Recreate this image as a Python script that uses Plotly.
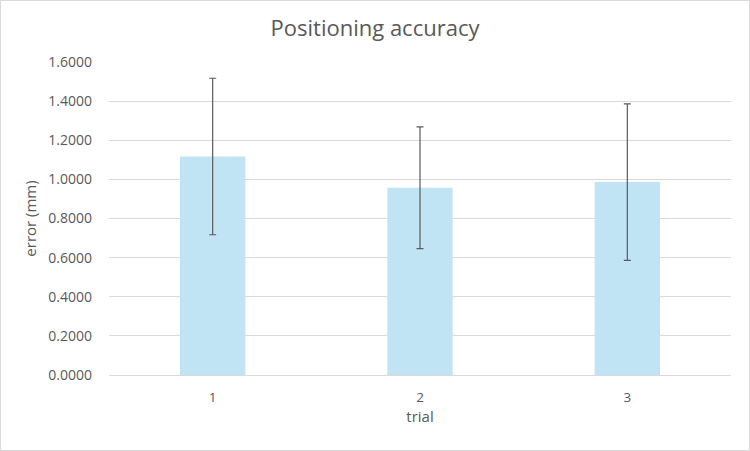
import plotly.graph_objects as go

trials = ["1", "2", "3"]
mean_error = [1.117, 0.957, 0.986]
std_error = [0.400, 0.311, 0.400]
y_ticks = [0.0, 0.2, 0.4, 0.6, 0.8, 1.0, 1.2, 1.4, 1.6]

W, H = 750, 451
L, R, T, B = 109, 19, 62, 76
pw, ph = W - L - R, H - T - B

font = "Open Sans"
grey = "#595959"

fig = go.Figure()
fig.add_trace(go.Bar(
    x=trials, y=mean_error,
    marker=dict(color="#C1E4F5", line=dict(width=0)),
    width=0.315,
    error_y=dict(type="data", array=std_error, visible=True,
                 color="#5a5a5a", thickness=1.2, width=3.5),
))

def px2x(px):
    return (px - L) / pw

def py2y(py):
    return (H - B - py) / ph

fig.add_shape(type="rect", xref="paper", yref="paper",
              x0=px2x(0.5), x1=px2x(W - 0.5), y0=py2y(H - 0.5), y1=py2y(0.5),
              line=dict(color="#D9D9D9", width=1), fillcolor="rgba(0,0,0,0)", layer="below")

fig.update_layout(
    width=W, height=H,
    margin=dict(l=L, r=R, t=T, b=B),
    paper_bgcolor="white", plot_bgcolor="white",
    showlegend=False,
    title=dict(text="Positioning accuracy", x=0.5, xref="container", xanchor="center",
               y=1 - 28.5 / H, yanchor="middle",
               font=dict(family=font, size=22, color=grey)),
    font=dict(family=font, color=grey),
)
fig.update_xaxes(
    type="category", showgrid=False, zeroline=False,
    showline=False, ticks="", ticklabelstandoff=12,
    tickfont=dict(family=font, size=13.5, color=grey),
    title=dict(text="trial", font=dict(family=font, size=15, color=grey), standoff=6),
)
fig.update_yaxes(
    range=[0, 1.6], tickvals=y_ticks, tickformat=".4f",
    showgrid=True, gridcolor="#D9D9D9", gridwidth=1,
    zeroline=True, zerolinecolor="#D9D9D9", zerolinewidth=1,
    showline=False, ticks="", ticklabelstandoff=16,
    tickfont=dict(family=font, size=14, color=grey),
    title=dict(text="error (mm)", font=dict(family=font, size=15, color=grey), standoff=8),
)

fig.write_html("out.html")
